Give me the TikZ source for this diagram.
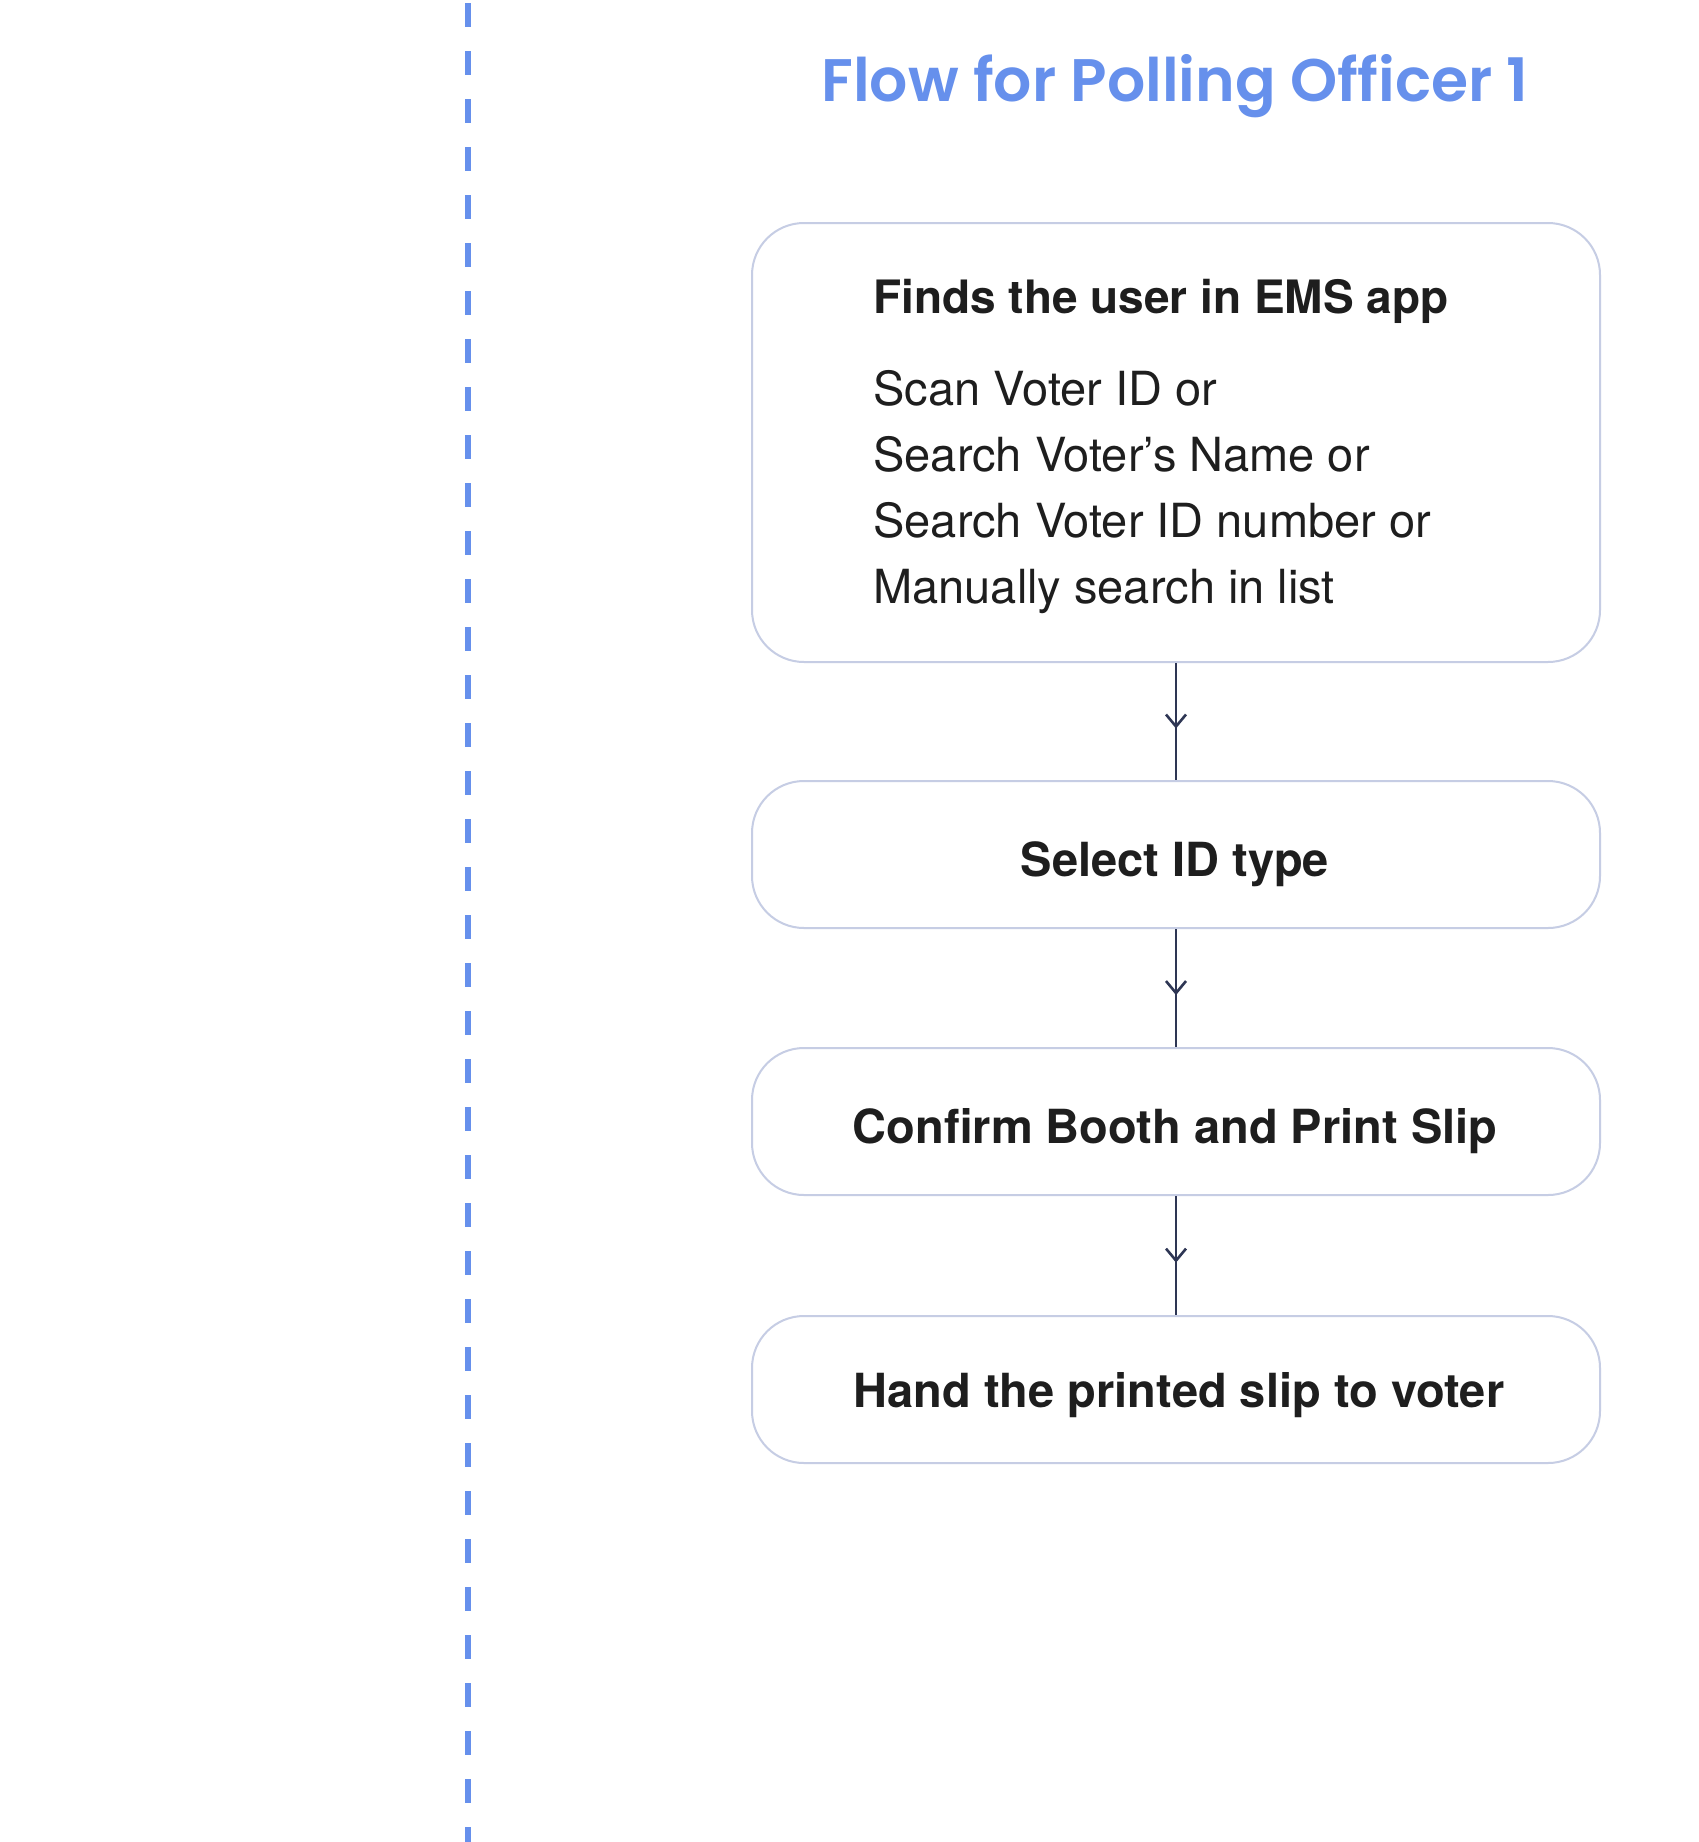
\documentclass[tikz,border=0pt]{standalone}
\usepackage{fontspec}
\setmainfont{TeX Gyre Heros}
\newfontfamily\titlefont{Poppins SemiBold}
\usetikzlibrary{arrows.meta,decorations.markings}
\definecolor{accent}{HTML}{6690EC}
\definecolor{boxline}{HTML}{C6CDE4}
\definecolor{arrowc}{HTML}{2E3654}
\definecolor{txt}{HTML}{1E1E1E}
\tikzset{
  card/.style={draw=boxline, line width=1pt, rounded corners=26pt, fill=white,
    minimum width=424pt, inner sep=0pt},
  headtxt/.style={text=txt, font=\bfseries\fontsize{23.5}{28}\selectfont, inner sep=0pt},
  bodytxt/.style={text=txt, font=\fontsize{23.5}{28}\selectfont, inner sep=0pt, anchor=base west},
  flow/.style={draw=arrowc, line width=1pt, postaction={decorate},
    decoration={markings, mark=at position 0.56 with {\arrow[arrowc]{Straight Barb[length=6pt,width=10pt,line width=1.3pt]}}}},
}
\begin{document}
\begin{tikzpicture}[x=0.5pt,y=-0.5pt]
\useasboundingbox (0,0) rectangle (1698,1842);
\fill[white] (0,0) rectangle (1698,1842);
\draw[accent, line width=3pt, dash pattern=on 12pt off 12pt] (468,3) -- (468,1842);
\node[anchor=base, inner sep=0pt, text=accent, font=\titlefont\fontsize{30}{36}\selectfont] (title) at (1175,101) {Flow for Polling Officer 1};
% boxes
\node[card, minimum height=219.5pt] (b1) at (1176,442.5) {};
\node[card, minimum height=73.5pt] (b2) at (1176,854.5) {};
\node[card, minimum height=73.5pt] (b3) at (1176,1121.5) {};
\node[card, minimum height=73.5pt] (b4) at (1176,1389.5) {};
% texts
\node[headtxt, anchor=base west, font=\bfseries\fontsize{23}{28}\selectfont] (h1) at (873,313) {Finds the user in EMS app};
\node[bodytxt] (d1) at (873,405) {Scan Voter ID or};
\node[bodytxt] (d2) at (873,471) {Search Voter’s Name or};
\node[bodytxt] (d3) at (873,537) {Search Voter ID number or};
\node[bodytxt] (d4) at (873,603) {Manually search in list};
\node[headtxt, anchor=base] (t2) at (1175,876) {Select ID type};
\node[headtxt, anchor=base] (t3) at (1175,1143) {Confirm Booth and Print Slip};
\node[headtxt, anchor=base] (t4) at (1179,1407) {Hand the printed slip to voter};
% connectors
\draw[flow] (b1.south) -- (b2.north);
\draw[flow] (b2.south) -- (b3.north);
\draw[flow] (b3.south) -- (b4.north);
\end{tikzpicture}
\end{document}
